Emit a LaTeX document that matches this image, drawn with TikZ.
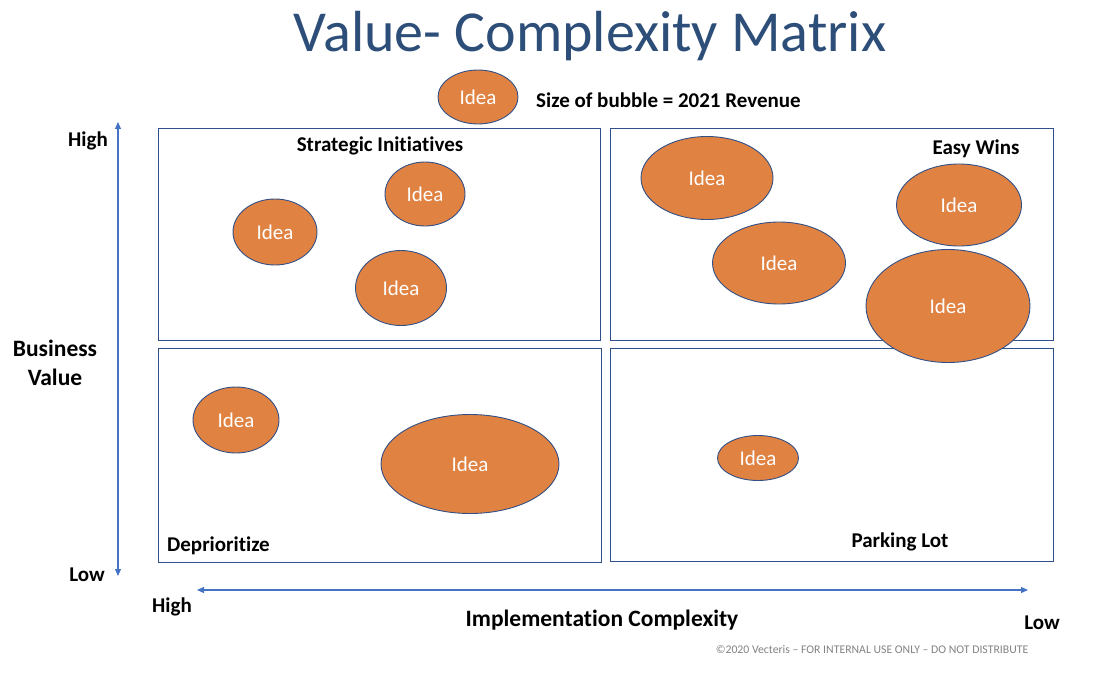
\documentclass[tikz,border=0pt]{standalone}
\usepackage{fontspec}
\setmainfont{Carlito}[Ligatures=NoCommon]
\usetikzlibrary{shapes.geometric,arrows.meta}
\definecolor{titleblue}{RGB}{44,78,120}
\definecolor{boxblue}{RGB}{47,78,140}
\definecolor{arrowblue}{RGB}{68,114,196}
\definecolor{bubble}{RGB}{224,130,66}
\definecolor{bubbleedge}{RGB}{50,80,135}
\definecolor{footgray}{RGB}{130,130,130}
\tikzset{
  quad/.style={draw=boxblue,line width=1.1pt},
  bubblenode/.style={ellipse,draw=bubbleedge,line width=0.9pt,fill=bubble,inner sep=0pt,text=white,font=\fontsize{21}{23}\selectfont},
  axislabel/.style={font=\bfseries\fontsize{21}{23}\selectfont,text=black,inner sep=0pt},
  quadlabel/.style={font=\bfseries\fontsize{21}{23}\selectfont,text=black,inner sep=0pt},
  biglabel/.style={font=\bfseries\fontsize{23.5}{29}\selectfont,text=black,inner sep=0pt,align=center},
  axisarrow/.style={draw=arrowblue,line width=1.1pt,{Triangle[length=7pt,width=6pt]}-{Triangle[length=7pt,width=6pt]}}
}
\newcommand{\bub}[5]{\node[bubblenode,minimum width=#3pt,minimum height=#4pt] (#5) at (#1,#2) {Idea};}
\begin{document}
\begin{tikzpicture}[x=1pt,y=-1pt]
\useasboundingbox (0,0) rectangle (1100,674);
% title
\node[text=titleblue,font=\fontsize{58}{60}\selectfont,inner sep=0pt] (title) at (590,36) {Value- Complexity Matrix};
% legend
\bub{478}{97}{80}{54}{legend}
\node[quadlabel,anchor=west] (legendtext) at (536,100) {Size of bubble = 2021 Revenue};
% quadrants
\node[quad,minimum width=442pt,minimum height=212pt,inner sep=0pt,anchor=north west] (q1) at (158,128) {};
\node[quad,minimum width=443pt,minimum height=212pt,inner sep=0pt,anchor=north west] (q2) at (610,128) {};
\node[quad,minimum width=443pt,minimum height=214pt,inner sep=0pt,anchor=north west] (q3) at (158,348) {};
\node[quad,minimum width=443pt,minimum height=213pt,inner sep=0pt,anchor=north west] (q4) at (610,348) {};
% quadrant labels
\node[quadlabel] (l1) at (380,146) {Strategic Initiatives};
\node[quadlabel] (l2) at (976,149) {Easy Wins};
\node[quadlabel,anchor=west] (l3) at (167,546) {Deprioritize};
\node[quadlabel] (l4) at (900,542) {Parking Lot};
% bubbles
\bub{275}{232}{84}{66}{b1}
\bub{425}{194}{80}{64}{b2}
\bub{401}{288}{91}{75}{b3}
\bub{707}{178}{132}{83}{b4}
\bub{779}{263}{133}{82}{b5}
\bub{959}{205}{125}{82}{b6}
\bub{948}{306}{164}{113}{b7}
\bub{236}{420}{86}{66}{b8}
\bub{470}{464}{178}{99}{b9}
\bub{758}{458}{81}{45}{b10}
% axes
\coordinate (vtop) at (118,122);
\coordinate (vbot) at (118,576);
\draw[axisarrow] (vtop) -- (vbot);
\coordinate (hleft) at (197,590);
\coordinate (hright) at (1028,590);
\draw[axisarrow] (hleft) -- (hright);
% axis labels
\node[axislabel] (vhigh) at (88,141) {High};
\node[axislabel] (vlow) at (87,575) {Low};
\node[biglabel] (bv) at (55,363) {Business\\Value};
\node[axislabel] (hhigh) at (172,607) {High};
\node[biglabel] (ic) at (602,620) {Implementation Complexity};
\node[axislabel] (hlow) at (1042,623) {Low};
% footer
\node[text=footgray,font=\fontsize{11.75}{13}\selectfont,inner sep=0pt] (foot) at (872,649) {©2020 Vecteris – FOR INTERNAL USE ONLY – DO NOT DISTRIBUTE};
\end{tikzpicture}
\end{document}
